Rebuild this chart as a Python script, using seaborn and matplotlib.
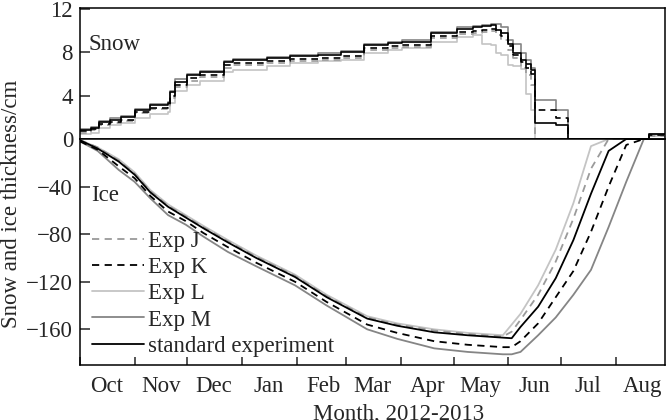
import pandas as pd
import numpy as np
import matplotlib.pyplot as plt
import matplotlib.dates as mdates
import seaborn as sns

# days counted from 1 Oct 2012
start = pd.Timestamp("2012-10-01")

snow_days = [0, 6, 11, 17, 23, 31, 40, 50, 51, 54, 61, 68, 82, 87, 106, 119, 135, 148, 161, 175,
             183, 199, 214, 223, 228, 233, 236, 239, 243, 246, 250, 253, 256, 258, 263, 270, 277, 323, 334]

snow_std = [0.8, 1.0, 1.6, 1.8, 2.0, 2.7, 3.1, 3.3, 4.3, 5.3, 5.9, 6.2, 7.1, 7.3, 7.5, 7.7, 7.8, 8.0, 8.7, 8.9,
            9.0, 9.8, 10.2, 10.3, 10.4, 10.5, 10.1, 9.8, 8.8, 7.9, 7.3, 6.9, 6.4, 1.5, 1.5, 1.3, 0, 0.5, 0.5]
snow_j = [0.6, 0.8, 1.3, 1.5, 1.7, 2.4, 2.8, 3.0, 3.8, 4.8, 5.4, 5.7, 6.6, 6.8, 7.0, 7.2, 7.3, 7.5, 8.2, 8.4,
          8.5, 9.3, 9.7, 9.8, 9.9, 10.0, 9.6, 9.1, 8.2, 7.5, 6.6, 5.9, 5.0, 0, 0, 0, 0, 0.3, 0.3]
snow_k = [0.7, 0.9, 1.4, 1.6, 1.8, 2.5, 2.9, 3.1, 4.0, 5.0, 5.6, 5.9, 6.8, 7.0, 7.2, 7.4, 7.5, 7.7, 8.4, 8.6,
          8.7, 9.5, 9.9, 10.0, 10.1, 10.2, 10.0, 9.5, 8.6, 7.8, 7.1, 6.6, 6.0, 2.7, 2.7, 1.9, 0, 0.4, 0.4]
snow_l = [0.5, 0.6, 1.0, 1.3, 1.5, 1.9, 2.3, 2.5, 3.3, 4.4, 5.0, 5.4, 6.2, 6.4, 6.7, 7.0, 7.2, 7.3, 7.9, 8.2,
          8.4, 9.0, 9.4, 9.6, 8.8, 8.7, 7.9, 7.8, 6.8, 6.7, 6.5, 4.2, 2.7, 0, 0, 0, 0, 0.3, 0.3]
snow_m = [0.9, 1.1, 1.7, 1.9, 2.1, 2.8, 3.2, 3.4, 4.4, 5.5, 6.0, 6.3, 7.2, 7.4, 7.6, 7.8, 7.9, 8.1, 8.8, 9.0,
          9.1, 9.9, 10.3, 10.4, 10.5, 10.6, 10.6, 10.3, 9.1, 8.8, 7.9, 7.3, 6.6, 3.6, 3.6, 2.7, 0, 0.5, 0.5]

ice_days = [0, 10, 22, 31, 40, 50, 60, 70, 84, 100, 122, 140, 163, 180, 201, 220, 240, 245, 250, 260,
            270, 280, 290, 300, 310, 320, 334]

ice_std = [-1, -8, -19, -30, -45, -57, -66, -75, -87, -100, -116, -133, -151, -157, -162.5, -165, -167, -167.5,
           -158, -141, -117, -85, -46, -10, 0, 0, 0]
ice_j = [-1, -7, -18, -29, -44, -56, -65, -74, -86, -99, -115, -132, -150, -156, -161, -164, -166, -162,
         -152, -131, -103, -67, -25, 0, 0, 0, 0]
ice_k = [-2, -9, -23, -33, -48, -61, -69, -79, -91, -104, -120, -137, -156, -163, -170, -173, -175, -175,
         -170, -155, -133, -111, -78, -40, -5, 0, 0]
ice_l = [-1, -7, -17, -28, -43, -55, -64, -73, -85, -98, -114, -131, -149, -155, -160, -163, -165, -156,
         -147, -123, -93, -54, -6, 0, 0, 0, 0]
ice_m = [-2, -10, -26, -36, -50, -64, -72, -82, -95, -107, -123, -140, -160, -168, -176, -179, -181, -181,
         -179, -165, -150, -131, -110, -74, -36, 0, 0]

labels = ["Exp J", "Exp K", "Exp L", "Exp M", "standard experiment"]

sns.set_style("ticks")
plt.rcParams["font.family"] = ["Liberation Serif", "DejaVu Serif"]
plt.rcParams["font.size"] = 16.5
plt.rcParams["axes.linewidth"] = 1.1

styles = {
    "Exp L": dict(color="#c4c4c4", ls="-"),
    "Exp M": dict(color="#858585", ls="-"),
    "Exp J": dict(color="#9a9a9a", ls=(0, (4, 3))),
    "Exp K": dict(color="black", ls=(0, (4, 3))),
    "standard experiment": dict(color="black", ls="-"),
}
snow = {"Exp J": snow_j, "Exp K": snow_k, "Exp L": snow_l, "Exp M": snow_m, "standard experiment": snow_std}
ice = {"Exp J": ice_j, "Exp K": ice_k, "Exp L": ice_l, "Exp M": ice_m, "standard experiment": ice_std}

sdates = start + pd.to_timedelta(snow_days, unit="D")
idates = start + pd.to_timedelta(ice_days, unit="D")

fig = plt.figure(figsize=(6.69, 4.2), dpi=100)
ax_s = fig.add_axes([80 / 669, 281 / 420, 585 / 669, 131 / 420])
ax_i = fig.add_axes([80 / 669, 55 / 420, 585 / 669, 226 / 420])

draw_order = ["Exp L", "Exp M", "Exp J", "Exp K", "standard experiment"]
for name in draw_order:
    st = styles[name]
    sns.lineplot(x=sdates, y=snow[name], ax=ax_s, color=st["color"], linestyle=st["ls"],
                 lw=1.2, drawstyle="steps-post", legend=False)
    sns.lineplot(x=idates, y=ice[name], ax=ax_i, color=st["color"], linestyle=st["ls"],
                 lw=1.3, label=name)

xmin, xmax = start, start + pd.Timedelta(days=332)
for ax in (ax_s, ax_i):
    ax.set_xlim(xmin, xmax)
    ax.set_xlabel("")
    ax.set_ylabel("")
    for sp in ax.spines.values():
        sp.set_visible(True)
        sp.set_color("black")

ax_s.set_ylim(0, 12.1)
ax_s.set_yticks([0, 4, 8, 12])
ax_s.tick_params(axis="x", which="both", bottom=False, labelbottom=False)
ax_s.tick_params(axis="y", direction="in", length=7, width=1.1, pad=5)

ax_i.set_ylim(-190, 0)
ax_i.set_yticks([-160, -120, -80, -40])
ax_i.tick_params(axis="y", direction="in", length=7, width=1.1, pad=5)
ax_i.xaxis.set_major_locator(mdates.MonthLocator(bymonthday=1))
ax_i.xaxis.set_major_formatter(plt.NullFormatter())
ax_i.xaxis.set_minor_locator(mdates.MonthLocator(bymonthday=16))
ax_i.xaxis.set_minor_formatter(mdates.DateFormatter("%b"))
ax_i.tick_params(axis="x", which="major", direction="in", length=6, width=1.1)
ax_i.tick_params(axis="x", which="minor", length=0, pad=8)

ax_s.text(0.014, 0.725, "Snow", transform=ax_s.transAxes, va="center", ha="left")
ax_i.text(0.019, 0.752, "Ice", transform=ax_i.transAxes, va="center", ha="left")

handles, labs = ax_i.get_legend_handles_labels()
lookup = dict(zip(labs, handles))
ax_i.legend([lookup[l] for l in labels], labels, loc="upper left", bbox_to_anchor=(0.02, 0.595),
            frameon=False, borderaxespad=0, borderpad=0, handlelength=2.3,
            handletextpad=0.15, labelspacing=0.23)

fig.text(12 / 669, 1 - 204 / 420, "Snow and ice thickness/cm", rotation=90, va="center", ha="center")
fig.text(399 / 669, 1 - 404 / 420, "Month, 2012-2013", va="top", ha="center")

fig.savefig("out.png", dpi=100)
